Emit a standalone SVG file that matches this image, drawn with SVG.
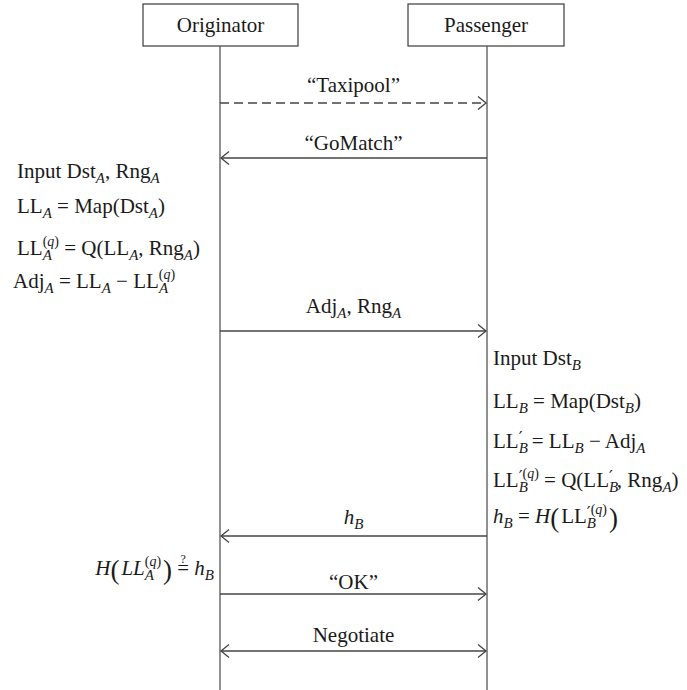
<svg xmlns="http://www.w3.org/2000/svg" width="687" height="690" viewBox="0 0 687 690">
<style>
text{font-family:"Liberation Serif","DejaVu Serif",serif;font-size:21px;fill:#1a1a1a}
.sub{font-size:15px;font-style:italic}
.sup{font-size:14px}
.pr{font-size:17px;font-family:"DejaVu Serif",serif}
.par{font-size:27px}
.i{font-style:italic}
.box{fill:#fff;stroke:#3a3a3a;stroke-width:1.2}
.life{stroke:#555;stroke-width:1.3;fill:none}
.msg{stroke:#444;stroke-width:1.3;fill:none}
.dash{stroke-dasharray:9 5}
.mid{text-anchor:middle}
</style>
<defs>
<marker id="arr" markerUnits="userSpaceOnUse" markerWidth="12" markerHeight="16" refX="9" refY="7" orient="auto-start-reverse" viewBox="0 0 12 16">
<path d="M1,0.5 L9,7 L1,13.5" fill="none" stroke="#444" stroke-width="1.3"/>
</marker>
</defs>

<g id="originator">
<rect class="box" x="143" y="4" width="155" height="42"/>
<text class="mid" x="220.5" y="32">Originator</text>
<line class="life" x1="220" y1="46" x2="220" y2="690"/>
</g>
<g id="passenger">
<rect class="box" x="408" y="4" width="156" height="42"/>
<text class="mid" x="486" y="32">Passenger</text>
<line class="life" x1="487" y1="46" x2="487" y2="690"/>
</g>

<g id="connectors">
<line class="msg dash" x1="220" y1="103" x2="486" y2="103" marker-end="url(#arr)"/>
<line class="msg" x1="487" y1="158" x2="221" y2="158" marker-end="url(#arr)"/>
<line class="msg" x1="220" y1="331" x2="486" y2="331" marker-end="url(#arr)"/>
<line class="msg" x1="487" y1="536" x2="221" y2="536" marker-end="url(#arr)"/>
<line class="msg" x1="220" y1="594" x2="486" y2="594" marker-end="url(#arr)"/>
<line class="msg" x1="221" y1="651" x2="486" y2="651" marker-start="url(#arr)" marker-end="url(#arr)"/>
</g>

<g id="labels">
<text class="mid" x="353.5" y="92">“Taxipool”</text>
<text class="mid" x="353.5" y="150">“GoMatch”</text>
<text class="mid" x="353.5" y="313">Adj<tspan class="sub" dy="5">A</tspan><tspan dy="-5">, Rng</tspan><tspan class="sub" dy="5">A</tspan></text>
<text class="mid" x="353.5" y="524"><tspan class="i">h</tspan><tspan class="sub" dy="5">B</tspan></text>
<text class="mid" x="353.5" y="589">“OK”</text>
<text class="mid" x="353.5" y="642">Negotiate</text>
</g>

<g id="originator-notes">
<text x="17" y="178">Input Dst<tspan class="sub" dy="5">A</tspan><tspan dy="-5">, Rng</tspan><tspan class="sub" dy="5">A</tspan></text>
<text x="17" y="213">LL<tspan class="sub" dy="5">A</tspan><tspan dy="-5"> = Map(Dst</tspan><tspan class="sub" dy="5">A</tspan><tspan dy="-5">)</tspan></text>
<text x="17" y="255">LL<tspan class="sup" dy="-9">(<tspan class="i">q</tspan>)</tspan><tspan class="sub" dx="-16.3" dy="14">A</tspan><tspan dx="7.1" dy="-5"> = Q(LL</tspan><tspan class="sub" dy="5">A</tspan><tspan dy="-5">, Rng</tspan><tspan class="sub" dy="5">A</tspan><tspan dy="-5">)</tspan></text>
<text x="13" y="288">Adj<tspan class="sub" dy="5">A</tspan><tspan dy="-5"> = LL</tspan><tspan class="sub" dy="5">A</tspan><tspan dy="-5"> − LL</tspan><tspan class="sup" dy="-9">(<tspan class="i">q</tspan>)</tspan><tspan class="sub" dx="-16.3" dy="14">A</tspan></text>
<text x="214" y="575" text-anchor="end"><tspan class="i">H</tspan><tspan class="par" dy="4">(</tspan><tspan class="i" dx="2" dy="-4">LL</tspan><tspan class="sup" dy="-9">(<tspan class="i">q</tspan>)</tspan><tspan class="sub" dx="-16.3" dy="14">A</tspan><tspan class="par" dx="9.1" dy="-1">)</tspan><tspan dy="-4"> =</tspan><tspan font-size="12" dx="-8.6" dy="-12">?</tspan><tspan dx="3.2" dy="12"> </tspan><tspan class="i">h</tspan><tspan class="sub" dy="5">B</tspan></text>
</g>

<g id="passenger-notes">
<text x="493" y="365">Input Dst<tspan class="sub" dy="5">B</tspan></text>
<text x="493" y="408">LL<tspan class="sub" dy="5">B</tspan><tspan dy="-5"> = Map(Dst</tspan><tspan class="sub" dy="5">B</tspan><tspan dy="-5">)</tspan></text>
<text x="493" y="448">LL<tspan class="sub" dy="5">B</tspan><tspan class="pr" dx="-9.2" dy="-10">′</tspan><tspan dx="4" dy="5"> = LL</tspan><tspan class="sub" dy="5">B</tspan><tspan dy="-5"> − Adj</tspan><tspan class="sub" dy="5">A</tspan></text>
<text x="493" y="487">LL<tspan class="sub" dy="5">B</tspan><tspan class="pr" dx="-9.2" dy="-10">′</tspan><tspan class="sup" dy="-4">(<tspan class="i">q</tspan>)</tspan><tspan dy="9"> = Q(LL</tspan><tspan class="sub" dy="5">B</tspan><tspan class="pr" dx="-9.2" dy="-10">′</tspan><tspan dx="4" dy="5">, Rng</tspan><tspan class="sub" dy="5">A</tspan><tspan dy="-5">)</tspan></text>
<text x="493" y="523"><tspan class="i">h</tspan><tspan class="sub" dy="5">B</tspan><tspan dy="-5"> = </tspan><tspan class="i">H</tspan><tspan class="par" dy="4">(</tspan><tspan dx="2" dy="-4">LL</tspan><tspan class="sub" dy="5">B</tspan><tspan class="pr" dx="-9.2" dy="-10">′</tspan><tspan class="sup" dy="-4">(<tspan class="i">q</tspan>)</tspan><tspan class="par" dx="2" dy="13">)</tspan></text>
</g>
</svg>
